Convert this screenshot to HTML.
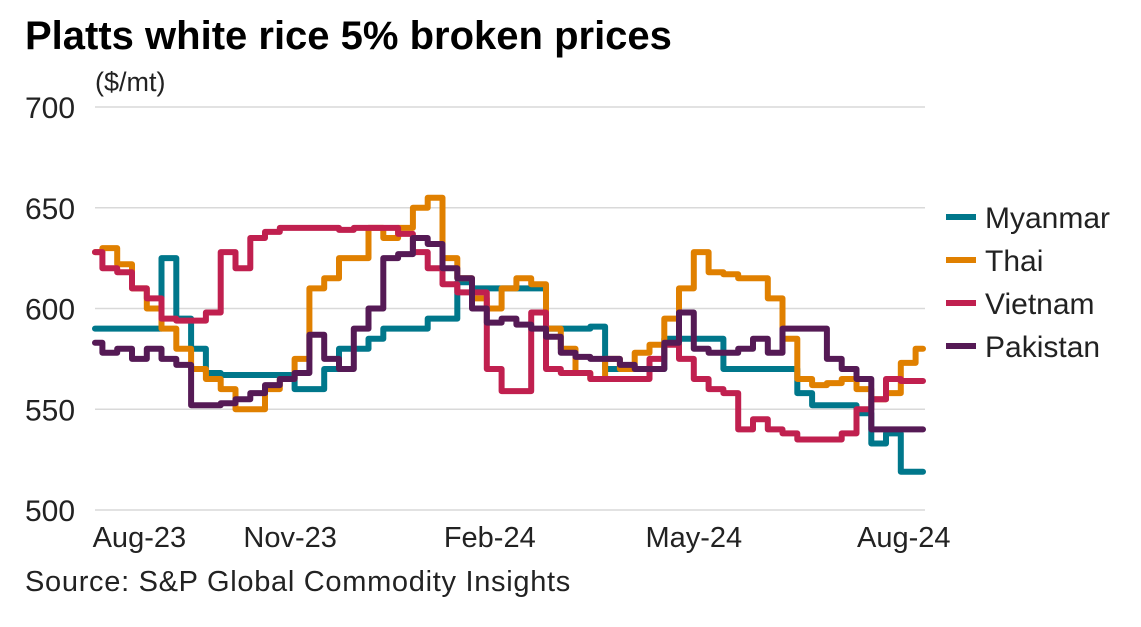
<!DOCTYPE html>
<html><head><meta charset="utf-8"><style>
body{margin:0;background:#fff;font-family:"Liberation Sans",sans-serif;}
</style></head><body>
<svg width="1141" height="622" xmlns="http://www.w3.org/2000/svg" id="c">
<text x="25" y="49" font-size="40" font-weight="bold" fill="#000">Platts white rice 5% broken prices</text>
<text x="95" y="91" font-size="27" fill="#222">($/mt)</text>
<text x="25" y="591" font-size="29" letter-spacing="0.7" fill="#222">Source: S&amp;P Global Commodity Insights</text>
<g id="grid"></g><g id="lines"></g><g id="legend"></g>
</svg>
<script>
const yTicks=[500,550,600,650,700];
const xTickLabels=["Aug-23","Nov-23","Feb-24","May-24","Aug-24"];
const xTickIdx=[3.0,13.2,26.7,40.5,54.7];
const names=["Myanmar","Thai","Vietnam","Pakistan"];
const colors=["#00778b","#e08000","#c0204f","#551a55"];
const myanmar=[590,590,590,590,590,625,595,580,568,567,567,567,567,567,560,560,570,580,580,585,590,590,590,595,595,613,610,610,610,610,610,590,590,590,591,570,570,570,570,585,585,585,585,570,570,570,570,570,558,552,552,552,548,533,538,519,519];
const thai=[628,630,622,610,600,590,580,570,565,560,550,550,560,565,575,610,615,625,625,640,635,640,650,655,625,615,605,600,610,615,612,590,580,568,565,575,570,578,582,595,610,628,618,617,615,615,605,585,565,562,563,565,560,555,558,573,580];
const vietnam=[628,620,618,610,605,595,594,594,598,628,620,635,638,640,640,640,640,639,640,640,640,637,628,620,612,608,608,570,559,559,598,570,568,568,565,565,565,565,575,582,575,565,560,558,540,545,540,538,535,535,535,538,550,555,565,564,564];
const pakistan=[583,578,580,575,580,575,572,552,552,553,555,558,562,565,568,587,575,570,590,600,625,627,635,632,620,615,600,593,595,592,590,586,578,576,575,575,572,570,570,583,598,580,578,578,580,585,578,590,590,590,575,570,565,540,540,540,540];
const series=[myanmar,thai,vietnam,pakistan];
const NS="http://www.w3.org/2000/svg";
const x0=95,x1=923,yTop=107,yBot=510,vMin=500,vMax=700;
const n=myanmar.length;
function xs(i){return x0+(x1-x0)*i/(n-1);}
function ys(v){return yBot-(v-vMin)/(vMax-vMin)*(yBot-yTop);}
const grid=document.getElementById('grid');
yTicks.forEach(t=>{
 const l=document.createElementNS(NS,'line');
 l.setAttribute('x1',x0);l.setAttribute('x2',x1+2);l.setAttribute('y1',ys(t));l.setAttribute('y2',ys(t));
 l.setAttribute('stroke','#d9d9d9');l.setAttribute('stroke-width','1.5');
 
 
 grid.appendChild(l);
 const tx=document.createElementNS(NS,'text');
 tx.setAttribute('x',25);tx.setAttribute('y',ys(t)+11);tx.setAttribute('font-size','30');tx.setAttribute('fill','#222');
 tx.textContent=t;
 
 
 grid.appendChild(tx);
});
xTickLabels.forEach((lab,k)=>{
 const tx=document.createElementNS(NS,'text');
 tx.setAttribute('x',xs(xTickIdx[k]));tx.setAttribute('y',547);tx.setAttribute('font-size','29');tx.setAttribute('fill','#222');
 tx.setAttribute('text-anchor','middle');
 tx.textContent=lab;
 
 
 grid.appendChild(tx);
});
const lines=document.getElementById('lines');
[0,1,2,3].forEach(s=>{
 let d='';
 series[s].forEach((v,i)=>{
  if(i===0){d+='M'+xs(0).toFixed(1)+','+ys(v).toFixed(1);}
  else{d+='H'+xs(i-0.5).toFixed(1)+'V'+ys(v).toFixed(1);}
 });
 d+='H'+xs(n-1).toFixed(1);
 const p=document.createElementNS(NS,'path');
 p.setAttribute('d',d);p.setAttribute('fill','none');p.setAttribute('stroke',colors[s]);
 p.setAttribute('stroke-width','6');p.setAttribute('stroke-linejoin','round');p.setAttribute('stroke-linecap','round');
 
 
 lines.appendChild(p);
});
const lg=document.getElementById('legend');
names.forEach((nm,k)=>{
 const y=217+43*k;
 const l=document.createElementNS(NS,'line');
 l.setAttribute('x1',946);l.setAttribute('x2',976);l.setAttribute('y1',y);l.setAttribute('y2',y);
 l.setAttribute('stroke',colors[k]);l.setAttribute('stroke-width','6');
 
 
 lg.appendChild(l);
 const tx=document.createElementNS(NS,'text');
 tx.setAttribute('x',985);tx.setAttribute('y',y+11);tx.setAttribute('font-size','30');tx.setAttribute('fill','#222');
 tx.textContent=nm;
 
 
 lg.appendChild(tx);
});
</script>
</body></html>
